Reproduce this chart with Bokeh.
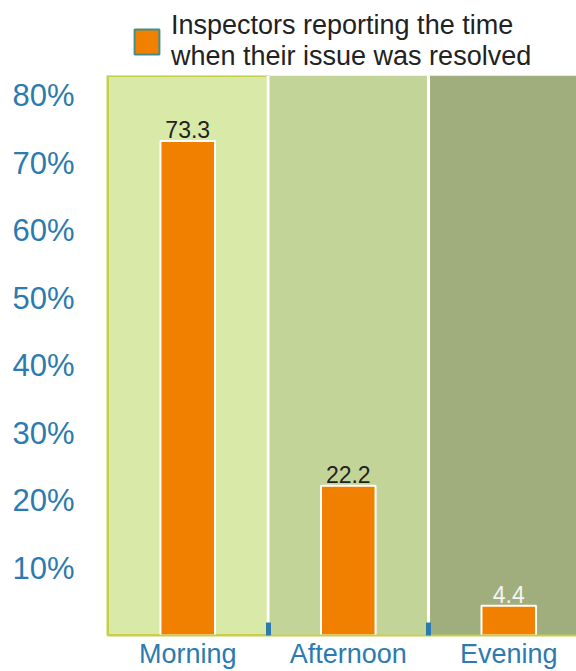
from bokeh.plotting import figure
from bokeh.models import (ColumnDataSource, Range1d, FixedTicker, Legend, LegendItem)
from bokeh.layouts import column
from bokeh.embed import file_html
from bokeh.resources import INLINE

# ---- data ----
categories = ["Morning", "Afternoon", "Evening"]
values = [73.3, 22.2, 4.4]
value_labels = ["73.3", "22.2", "4.4"]
y_ticks = [10, 20, 30, 40, 50, 60, 70, 80]
y_tick_labels = ["10%", "20%", "30%", "40%", "50%", "60%", "70%", "80%"]
series_name = "Inspectors reporting the time\nwhen their issue was resolved"

# ---- styles ----
band_colors = ["#d9eaa8", "#c3d499", "#a0ae7d"]
band_edges = ["#c6cf4c", None, None]
label_colors = ["#222222", "#222222", "#f4f4f4"]
bar_color = "#f28000"
blue = "#2b7bb0"
border_yellow = "#c6cf4c"
FONT = "Liberation Sans"

n = len(categories)
centers = [i + 0.5 for i in range(n)]
Y_END = 83
X_END = 2.922
TOP_H = 75

# ---- legend strip (top) ----
top = figure(width=576, height=TOP_H, x_range=Range1d(0, 1), y_range=Range1d(0, 1),
             output_backend="svg", toolbar_location=None,
             min_border_left=0, min_border_right=0, min_border_top=0, min_border_bottom=0)
top.axis.visible = False
top.grid.visible = False
top.outline_line_color = None
# off-screen proxy glyph that only supplies the legend swatch
proxy = top.quad(left=[-3], right=[-2], bottom=[-3], top=[-2], fill_color=bar_color,
                 line_color="#3f8f8f", line_width=2)
legend = Legend(items=[LegendItem(label=series_name, renderers=[proxy])],
                location=(24, 3), orientation="vertical")
legend.glyph_width = 31
legend.glyph_height = 31
legend.label_standoff = 9
legend.padding = 0
legend.margin = 0
legend.spacing = 0
legend.border_line_color = None
legend.background_fill_alpha = 0
legend.label_text_font = FONT
legend.label_text_font_size = "27px"
legend.label_text_color = "#222222"
legend.label_text_line_height = 0.95
top.add_layout(legend, "center")

# ---- main chart ----
p = figure(width=576, height=671 - TOP_H, x_range=Range1d(0, X_END), y_range=Range1d(0, Y_END),
           output_backend="svg", toolbar_location=None,
           min_border_left=107, min_border_right=0, min_border_top=0, min_border_bottom=34)
p.outline_line_color = None
p.xgrid.visible = False
p.ygrid.visible = False
p.background_fill_color = "white"
p.border_fill_color = "white"

# background bands
band_src = ColumnDataSource(dict(left=[i for i in range(n)], right=[i + 1 for i in range(n)],
                                 color=band_colors, edge=band_edges))
p.quad(left="left", right="right", bottom=0, top=Y_END, fill_color="color",
       line_color="edge", line_width=3, source=band_src)

# white separators between bands
seps = list(range(1, n))
p.segment(x0=seps, x1=seps, y0=[0] * len(seps), y1=[Y_END] * len(seps),
          line_color="white", line_width=3)

# bars
src = ColumnDataSource(dict(x=centers, top=values, cat=categories,
                            lab=value_labels, lc=label_colors))
p.vbar(x="x", top="top", width=0.34, bottom=0, fill_color=bar_color,
       line_color="white", line_width=2, source=src)

# value labels
p.text(x="x", y="top", text="lab", text_color="lc", text_align="center",
       text_baseline="bottom", y_offset=-3, text_font_size="23px",
       text_font={"value": FONT}, source=src)

# axes
xa = p.xaxis[0]
xa.ticker = FixedTicker(ticks=centers, minor_ticks=seps)
xa.major_label_overrides = {c: cat for c, cat in zip(centers, categories)}
xa.major_label_text_font = FONT
xa.major_label_text_font_size = "27px"
xa.major_label_text_color = blue
xa.major_label_standoff = 3
xa.major_tick_in = 0
xa.major_tick_out = 0
xa.minor_tick_in = 13
xa.minor_tick_out = 0
xa.minor_tick_line_color = blue
xa.minor_tick_line_width = 5
xa.axis_line_color = border_yellow
xa.axis_line_width = 2

ya = p.yaxis[0]
ya.ticker = FixedTicker(ticks=y_ticks, minor_ticks=[])
ya.major_label_overrides = {t: l for t, l in zip(y_ticks, y_tick_labels)}
ya.major_label_text_font = FONT
ya.major_label_text_font_size = "31px"
ya.major_label_text_color = blue
ya.major_label_standoff = 33
ya.major_tick_in = 0
ya.major_tick_out = 0
ya.axis_line_color = border_yellow
ya.axis_line_width = 2

layout = column(top, p, spacing=0)
open("out.html", "w").write(file_html(layout, INLINE))
